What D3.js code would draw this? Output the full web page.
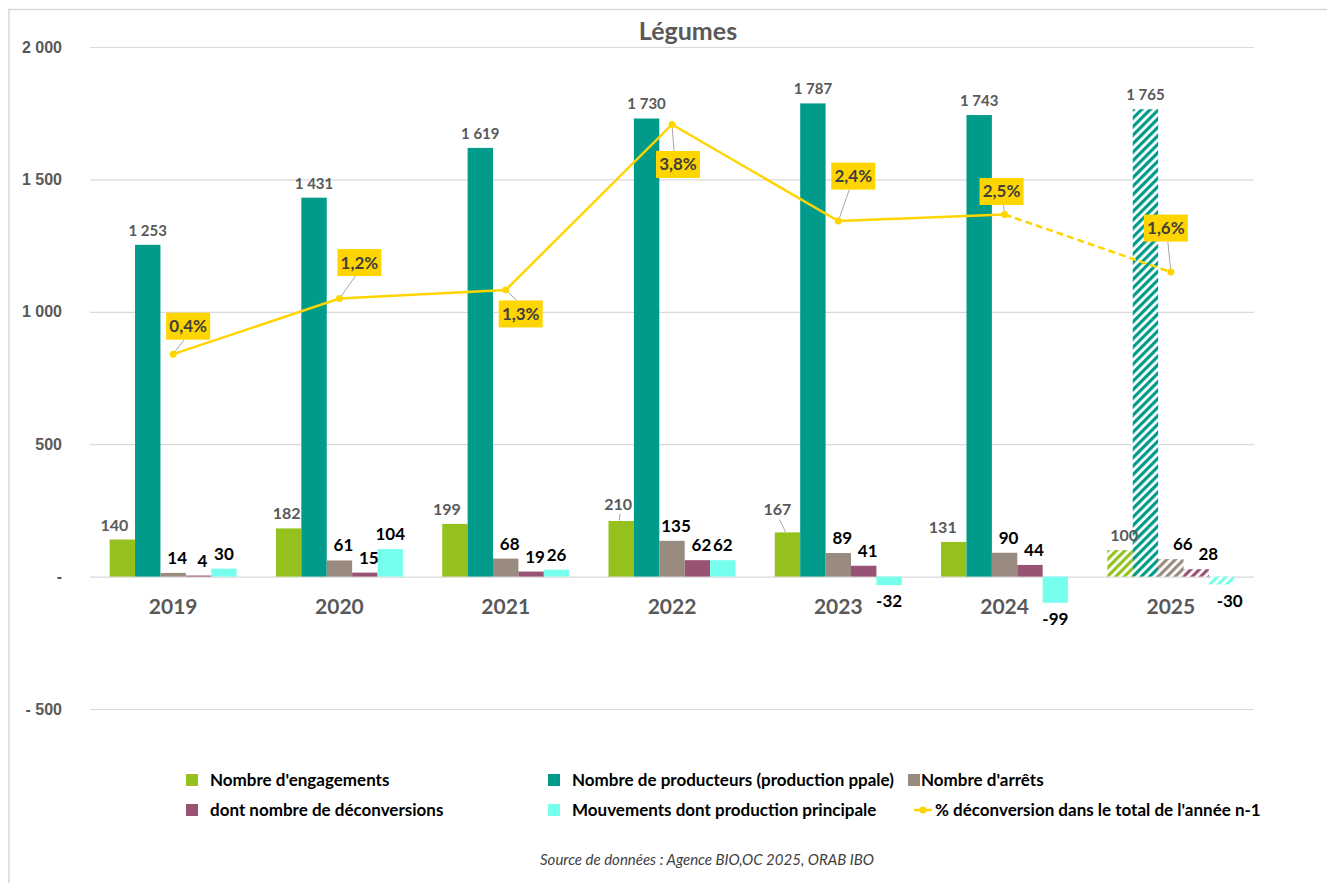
<!DOCTYPE html>
<html>
<head>
<meta charset="utf-8">
<script src="https://cdn.jsdelivr.net/npm/d3@7"></script>
<style>
  body { margin: 0; background: #fff; }
  svg { font-family: Lato, "Open Sans", sans-serif; }
</style>
</head>
<body>
<div id="chart"></div>
<script>
// Données
var annees = ["2019", "2020", "2021", "2022", "2023", "2024", "2025"];
var estimation = [false, false, false, false, false, false, true];
var engagements = [140, 182, 199, 210, 167, 131, 100];
var producteurs = [1253, 1431, 1619, 1730, 1787, 1743, 1765];
var arrets = [14, 61, 68, 135, 89, 90, 66];
var deconversions = [4, 15, 19, 62, 41, 44, 28];
var mouvements = [30, 104, 26, 62, -32, -99, -30];
var pctDeconversion = [0.36, 1.2, 1.33, 3.83, 2.37, 2.47, 1.6];
var yTicks = [-500, 0, 500, 1000, 1500, 2000];

var series = [
  {key: "eng", nom: "Nombre d'engagements", valeurs: engagements, couleur: "#95C11F"},
  {key: "prod", nom: "Nombre de producteurs (production ppale)", valeurs: producteurs, couleur: "#009B8A"},
  {key: "arr", nom: "Nombre d'arrêts", valeurs: arrets, couleur: "#9A8B80"},
  {key: "dec", nom: "dont nombre de déconversions", valeurs: deconversions, couleur: "#985273"},
  {key: "mvt", nom: "Mouvements dont production principale", valeurs: mouvements, couleur: "#77FFEE"}
];
var nomLigne = "% déconversion dans le total de l'année n-1";
var jaune = "#FFD500";

// Dimensions
var W = 1327, H = 883;
var svg = d3.select("#chart").append("svg")
  .attr("width", W).attr("height", H);

// cadre
svg.append("path")
  .attr("d", "M9," + H + "V9.5H" + W)
  .attr("fill", "none").attr("stroke", "#d9d9d9").attr("stroke-width", 1.5);

// Echelles
var x0 = d3.scaleBand().domain(annees).range([90, 1254]);
var bw = x0.bandwidth();
var x1 = d3.scaleBand().domain(series.map(function(s) { return s.key; }))
  .range([bw / 2 - 63.5, bw / 2 + 63.5]);
var y = d3.scaleLinear().domain([-500, 2000]).range([709, 47]);
var y2 = d3.scaleLinear().domain([-5, 5]).range([709, 47]);

// Hachures pour l'année estimée
var defs = svg.append("defs");
series.forEach(function(s) {
  var p = defs.append("pattern")
    .attr("id", "hatch-" + s.key)
    .attr("patternUnits", "userSpaceOnUse")
    .attr("width", 6).attr("height", 6)
    .attr("patternTransform", "rotate(45)");
  p.append("rect").attr("width", 6).attr("height", 6).attr("fill", "#fff");
  p.append("rect").attr("width", 3.2).attr("height", 6).attr("fill", s.couleur);
});

// Grille
svg.append("g").selectAll("line")
  .data(yTicks)
  .enter().append("line")
  .attr("x1", 90).attr("x2", 1254)
  .attr("y1", function(d) { return y(d) + 0.5; })
  .attr("y2", function(d) { return y(d) + 0.5; })
  .attr("stroke", "#d9d9d9").attr("stroke-width", 1.2);

// Axe Y
var fmtMille = function(v) {
  if (v === 0) return "-";
  var s = d3.format(",")(Math.abs(v)).replace(/,/g, " ");
  return v < 0 ? "- " + s : s;
};
var yAxis = svg.append("g")
  .attr("transform", "translate(62,0)")
  .call(d3.axisLeft(y).tickValues(yTicks).tickFormat(fmtMille).tickSize(0).tickPadding(0));
yAxis.select(".domain").remove();
yAxis.selectAll("text")
  .style("font-size", "16px").style("font-weight", "bold").attr("fill", "#595959");

// Titre
svg.append("text")
  .attr("x", 688).attr("y", 40)
  .attr("text-anchor", "middle")
  .style("font-size", "25px").style("font-weight", "bold")
  .attr("fill", "#595959")
  .text("Légumes");

// Barres
var groupes = svg.append("g").selectAll("g")
  .data(annees)
  .enter().append("g")
  .attr("transform", function(d) { return "translate(" + x0(d) + ",0)"; });

groupes.selectAll("rect")
  .data(function(d, i) {
    return series.map(function(s) { return {s: s, v: s.valeurs[i], est: estimation[i]}; });
  })
  .enter().append("rect")
  .attr("x", function(d) { return x1(d.s.key); })
  .attr("width", x1.bandwidth())
  .attr("y", function(d) { return y(Math.max(0, d.v)); })
  .attr("height", function(d) { return Math.abs(y(d.v) - y(0)); })
  .attr("fill", function(d) { return d.est ? "url(#hatch-" + d.s.key + ")" : d.s.couleur; });

// Axe X (libellés des années)
svg.append("g").selectAll("text")
  .data(annees)
  .enter().append("text")
  .attr("x", function(d) { return x0(d) + bw / 2; })
  .attr("y", 614)
  .attr("text-anchor", "middle")
  .style("font-size", "21px").style("font-weight", "bold")
  .attr("fill", "#595959")
  .text(function(d) { return d; });

// Etiquettes des barres
var fmtVal = function(v) {
  var s = d3.format(",")(Math.abs(v)).replace(/,/g, " ");
  return v < 0 ? "-" + s : s;
};
// décalages des étiquettes d'engagements (déplacées à la main dans l'original)
var decalEng = [[-8, 0], [-2, 0], [-8, 0], [-3, -2], [-10, -8], [-11, 0], [4, 0]];
var styleEtiq = {
  eng: {taille: 16, couleur: "#595959", dx: 0},
  prod: {taille: 15, couleur: "#595959", dx: 0},
  arr: {taille: 17, couleur: "#000", dx: 4},
  dec: {taille: 17, couleur: "#000", dx: 4},
  mvt: {taille: 17, couleur: "#000", dx: 0}
};

series.forEach(function(s) {
  var st = styleEtiq[s.key];
  annees.forEach(function(a, i) {
    var v = s.valeurs[i];
    var cx = x0(a) + x1(s.key) + x1.bandwidth() / 2 + st.dx;
    if (estimation[i] && s.key !== "eng" && s.key !== "prod") cx += 8;
    var ty = v >= 0 ? y(v) - 9 : y(v) + 22;
    if (s.key === "eng") {
      cx += decalEng[i][0];
      ty += decalEng[i][1];
      if (decalEng[i][1] < 0) {
        svg.append("line")
          .attr("x1", cx + 2).attr("y1", ty + 4)
          .attr("x2", x0(a) + x1(s.key) + x1.bandwidth() / 2 - 2).attr("y2", y(v) - 0.5)
          .attr("stroke", "#a6a6a6").attr("stroke-width", 1);
      }
    }
    svg.append("text")
      .attr("x", cx).attr("y", ty)
      .attr("text-anchor", "middle")
      .style("font-size", st.taille + "px").style("font-weight", "bold")
      .attr("fill", st.couleur)
      .text(fmtVal(v));
  });
});

// Ligne du % de déconversion
var ligne = d3.line()
  .x(function(d) { return x0(d.a) + bw / 2; })
  .y(function(d) { return y2(d.p); });
var pts = annees.map(function(a, i) { return {a: a, p: pctDeconversion[i], est: estimation[i]}; });
var nReel = estimation.indexOf(true);
svg.append("path")
  .datum(pts.slice(0, nReel))
  .attr("d", ligne)
  .attr("fill", "none").attr("stroke", jaune).attr("stroke-width", 2.5);
svg.append("path")
  .datum(pts.slice(nReel - 1))
  .attr("d", ligne)
  .attr("fill", "none").attr("stroke", jaune).attr("stroke-width", 2.5)
  .attr("stroke-dasharray", "7,4");

// étiquettes % (position du cadre par rapport au point)
var decalPct = [[15, -28], [20, -36], [15, 24], [6, 40], [15, -45], [-3, -23], [-5, -44]];
var fmtPct = function(p) { return d3.format(".1f")(p).replace(".", ",") + "%"; };
pts.forEach(function(d, i) {
  var px = x0(d.a) + bw / 2, py = y2(d.p);
  var bx = px + decalPct[i][0], by = py + decalPct[i][1];
  var bordY = decalPct[i][1] < 0 ? by + 13.5 : by - 13.5;
  svg.append("line")
    .attr("x1", px).attr("y1", py)
    .attr("x2", bx + (decalPct[i][0] > 0 ? -4 : 2)).attr("y2", bordY)
    .attr("stroke", "#a6a6a6").attr("stroke-width", 1);
  svg.append("rect")
    .attr("x", bx - 22).attr("y", by - 13.5)
    .attr("width", 44).attr("height", 27)
    .attr("fill", jaune);
  svg.append("text")
    .attr("x", bx).attr("y", by + 6)
    .attr("text-anchor", "middle")
    .style("font-size", "17px").style("font-weight", "bold")
    .attr("fill", "#404040")
    .text(fmtPct(d.p));
});
svg.append("g").selectAll("circle")
  .data(pts)
  .enter().append("circle")
  .attr("cx", function(d) { return x0(d.a) + bw / 2; })
  .attr("cy", function(d) { return y2(d.p); })
  .attr("r", 3.5)
  .attr("fill", jaune);

// Légende
var posLegende = [[186, 780], [548, 780], [908, 780], [186, 810], [548, 810]];
var leg = svg.append("g");
series.forEach(function(s, i) {
  var p = posLegende[i];
  leg.append("rect")
    .attr("x", p[0]).attr("y", p[1] - 6)
    .attr("width", 12).attr("height", 12)
    .attr("fill", s.couleur);
  leg.append("text")
    .attr("x", p[0] + (i === 2 ? 13 : 24)).attr("y", p[1] + 6)
    .style("font-size", "17px").style("font-weight", "bold")
    .attr("fill", "#000")
    .text(s.nom);
});
leg.append("line")
  .attr("x1", 914).attr("x2", 932).attr("y1", 810).attr("y2", 810)
  .attr("stroke", jaune).attr("stroke-width", 2.5);
leg.append("circle").attr("cx", 923).attr("cy", 810).attr("r", 3.5).attr("fill", jaune);
leg.append("text")
  .attr("x", 935).attr("y", 816)
  .style("font-size", "17px").style("font-weight", "bold")
  .attr("fill", "#000")
  .text(nomLigne);

// Source
svg.append("text")
  .attr("x", 707).attr("y", 865)
  .attr("text-anchor", "middle")
  .style("font-size", "15px").style("font-style", "italic")
  .attr("fill", "#404040")
  .text("Source de données : Agence BIO,OC 2025, ORAB IBO");
</script>
</body>
</html>
